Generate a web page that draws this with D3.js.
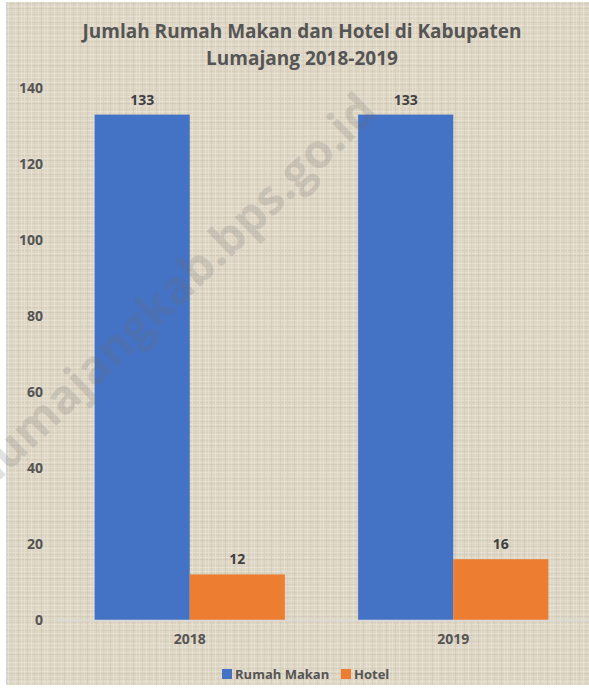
<!DOCTYPE html>
<html>
<head>
<meta charset="utf-8">
<script src="https://cdn.jsdelivr.net/npm/d3@7"></script>
<style>
  body { margin: 0; background: #ffffff; }
  svg { display: block; }
</style>
</head>
<body>
<svg id="chart" width="589" height="691"></svg>
<script>
// Data
const years = ['2018', '2019']
const series_names = ['Rumah Makan', 'Hotel']
const rumah_makan = [133, 133]
const hotel = [12, 16]
const y_ticks = [0, 20, 40, 60, 80, 100, 120, 140]

const colors = { 'Rumah Makan': '#4472c4', 'Hotel': '#ed7d31' }
const text_color = '#555555'
const font = "'Open Sans', 'Noto Sans', sans-serif"

const svg = d3.select('#chart')

// Linen-like background texture
let defs = svg.append('defs')
let pat = defs.append('pattern')
  .attr('id', 'linen')
  .attr('patternUnits', 'userSpaceOnUse')
  .attr('width', 23)
  .attr('height', 19)
pat.append('rect').attr('width', 23).attr('height', 19).attr('fill', '#ded6c5')
// fixed thread lines
const threads_h = [[1, '#e9e3d5'], [3, '#d4ccba'], [6, '#ebe5d8'], [8, '#cfc7b4'], [11, '#e6dfd0'], [14, '#d6ceba'], [16, '#ece6d9']]
const threads_v = [[1, '#e8e2d4'], [4, '#d2c9b6'], [8, '#eae4d6'], [11, '#d5cdba'], [15, '#e7e0d1'], [18, '#cec6b3'], [21, '#e9e3d5']]
threads_h.forEach(t => pat.append('rect').attr('x', 0).attr('y', t[0]).attr('width', 23).attr('height', 1).attr('fill', t[1]).attr('opacity', 0.7))
threads_v.forEach(t => pat.append('rect').attr('x', t[0]).attr('y', 0).attr('width', 1).attr('height', 19).attr('fill', t[1]).attr('opacity', 0.6))

svg.append('rect')
  .attr('x', 7).attr('y', 2)
  .attr('width', 582).attr('height', 683)
  .attr('fill', 'url(#linen)')
svg.append('line')
  .attr('x1', 6.5).attr('x2', 6.5).attr('y1', 2).attr('y2', 685)
  .attr('stroke', '#c9d6ea').attr('stroke-width', 1)

// Title
let title = svg.append('text')
  .attr('text-anchor', 'middle')
  .style('font-family', font)
  .style('font-weight', 'bold')
  .style('font-size', '19px')
  .attr('fill', text_color)
title.append('tspan').attr('x', 302).attr('y', 38).text('Jumlah Rumah Makan dan Hotel di Kabupaten')
title.append('tspan').attr('x', 302).attr('y', 65).text('Lumajang 2018-2019')

// Scales
const x0 = d3.scaleBand().domain(years).range([58, 585]).paddingInner(0.278).paddingOuter(0.139)
const x1 = d3.scaleBand().domain(series_names).range([0, x0.bandwidth()])
const y = d3.scaleLinear().domain([0, 140]).range([620, 88])

// Y axis labels
let y_axis = svg.append('g')
  .attr('transform', 'translate(47,0)')
  .call(d3.axisLeft(y).tickValues(y_ticks).tickSize(0).tickPadding(4))
y_axis.select('.domain').remove()
y_axis.selectAll('text')
  .style('font-family', font)
  .style('font-weight', 'bold')
  .style('font-size', '14px')
  .attr('fill', text_color)

// Bars
let rows = years.map((yr, i) => ({ year: yr, values: [
  { name: 'Rumah Makan', value: rumah_makan[i] },
  { name: 'Hotel', value: hotel[i] }
]}))

let groups = svg.append('g').selectAll('g')
  .data(rows)
  .join('g')
  .attr('transform', d => `translate(${x0(d.year)},0)`)

groups.selectAll('rect')
  .data(d => d.values)
  .join('rect')
  .attr('x', d => x1(d.name))
  .attr('y', d => y(d.value))
  .attr('width', x1.bandwidth())
  .attr('height', d => y(0) - y(d.value))
  .attr('fill', d => colors[d.name])

groups.selectAll('text')
  .data(d => d.values)
  .join('text')
  .attr('x', d => x1(d.name) + x1.bandwidth() / 2)
  .attr('y', d => y(d.value) - 10)
  .attr('text-anchor', 'middle')
  .style('font-family', font)
  .style('font-weight', 'bold')
  .style('font-size', '14px')
  .attr('fill', '#404040')
  .text(d => d.value)

// X axis
let x_axis = svg.append('g')
  .attr('transform', `translate(0,${y(0)})`)
  .call(d3.axisBottom(x0).tickSize(0).tickPadding(14))
x_axis.select('.domain')
  .attr('d', 'M54,0.5H589')
  .attr('stroke', '#d9d9d9')
  .attr('stroke-width', 1.5)
x_axis.selectAll('text')
  .style('font-family', font)
  .style('font-weight', 'bold')
  .style('font-size', '14px')
  .attr('fill', text_color)

// Legend
let legend = svg.append('g').attr('transform', 'translate(222,674)')
let leg_x = [0, 119]
series_names.forEach((s, i) => {
  let g = legend.append('g').attr('transform', `translate(${leg_x[i]},0)`)
  g.append('rect').attr('x', 0).attr('y', -5).attr('width', 10).attr('height', 10).attr('fill', colors[s])
  g.append('text')
    .attr('x', 13).attr('y', 0).attr('dy', '0.35em')
    .style('font-family', font)
    .style('font-weight', 'bold')
    .style('font-size', '13px')
    .attr('fill', text_color)
    .text(s)
})

// Watermark (starts past the left edge, as in the original)
svg.append('text')
  .attr('transform', 'translate(-2,482) rotate(-44)')
  .style('font-family', font)
  .style('font-weight', 'bold')
  .style('font-size', '47px')
  .attr('fill', '#707070')
  .attr('opacity', 0.2)
  .text('lumajangkab.bps.go.id')
</script>
</body>
</html>
